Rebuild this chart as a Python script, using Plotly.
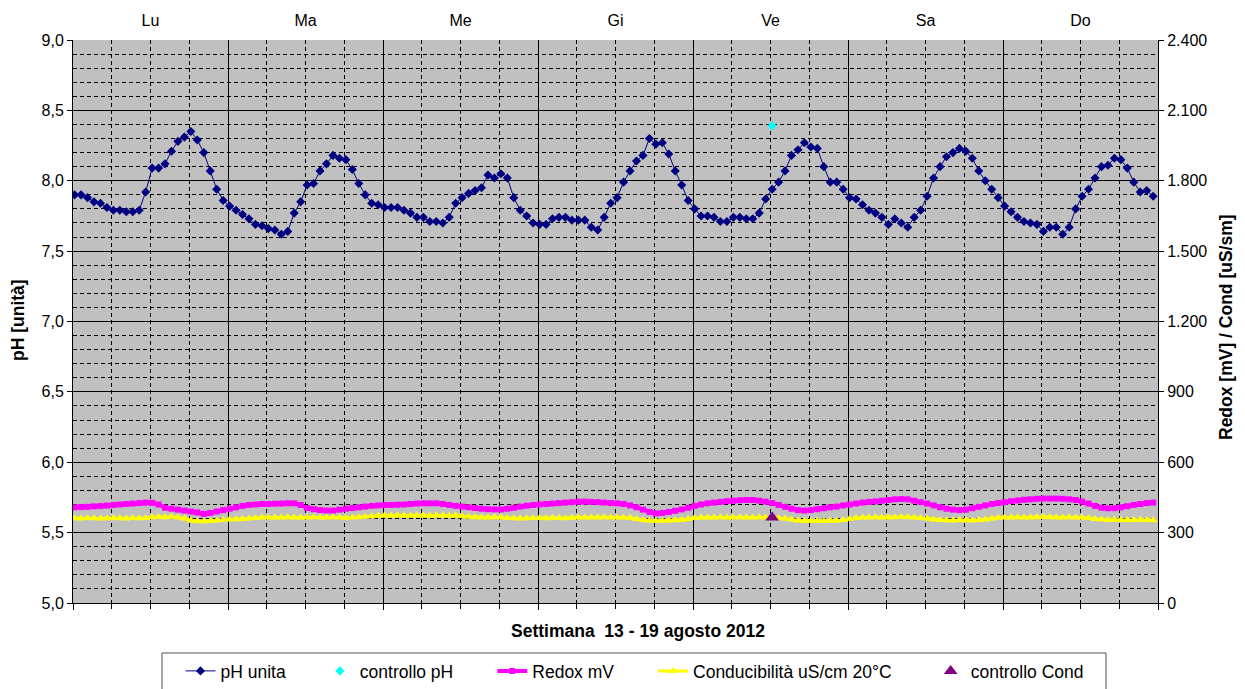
import plotly.graph_objects as go

# ---------------- data ----------------
days = ["Lu", "Ma", "Me", "Gi", "Ve", "Sa", "Do"]
hours = list(range(168))

ph_unita = [
    7.90, 7.90, 7.88, 7.85, 7.84, 7.81, 7.79, 7.79, 7.78, 7.78, 7.79, 7.92,
    8.09, 8.09, 8.12, 8.21, 8.28, 8.31, 8.35, 8.29, 8.20, 8.07, 7.94, 7.86,
    7.82, 7.79, 7.76, 7.73, 7.69, 7.68, 7.66, 7.65, 7.62, 7.64, 7.77, 7.85,
    7.97, 7.98, 8.07, 8.12, 8.18, 8.16, 8.15, 8.08, 7.98, 7.90, 7.84, 7.83,
    7.81, 7.81, 7.81, 7.79, 7.77, 7.74, 7.74, 7.71, 7.71, 7.70, 7.74, 7.84,
    7.88, 7.91, 7.93, 7.95, 8.04, 8.02, 8.05, 8.02, 7.88, 7.79, 7.75, 7.70,
    7.69, 7.69, 7.73, 7.74, 7.74, 7.72, 7.72, 7.72, 7.67, 7.65, 7.74, 7.84,
    7.88, 7.99, 8.07, 8.14, 8.18, 8.30, 8.26, 8.27, 8.19, 8.07, 7.97, 7.86,
    7.80, 7.75, 7.75, 7.74, 7.71, 7.71, 7.74, 7.74, 7.73, 7.73, 7.77, 7.87,
    7.94, 7.99, 8.07, 8.18, 8.22, 8.27, 8.24, 8.23, 8.10, 7.99, 7.99, 7.94,
    7.88, 7.87, 7.83, 7.79, 7.77, 7.74, 7.69, 7.73, 7.70, 7.67, 7.74, 7.79,
    7.89, 8.02, 8.10, 8.17, 8.20, 8.23, 8.21, 8.16, 8.07, 8.00, 7.94, 7.88,
    7.82, 7.78, 7.74, 7.71, 7.70, 7.69, 7.64, 7.67, 7.67, 7.62, 7.67, 7.80,
    7.89, 7.94, 8.02, 8.10, 8.11, 8.16, 8.15, 8.09, 7.99, 7.92, 7.93, 7.89,
]

redox_mv = [
    408, 409, 410, 412, 413, 415, 418, 420, 422, 424, 426, 428,
    427, 420, 406, 402, 398, 394, 390, 386, 380, 384, 390, 396,
    402, 408, 414, 418, 420, 422, 422, 423, 424, 425, 425, 418,
    405, 400, 396, 394, 394, 398, 402, 405, 408, 411, 414, 416,
    418, 418, 419, 420, 422, 424, 425, 425, 425, 422, 418, 414,
    411, 408, 405, 402, 400, 399, 399, 402, 406, 411, 415, 418,
    420, 422, 424, 426, 428, 430, 432, 432, 431, 430, 428, 426,
    425, 422, 416, 408, 398, 388, 382, 384, 388, 393, 399, 406,
    414, 420, 425, 428, 431, 434, 436, 438, 439, 439, 436, 432,
    426, 418, 410, 402, 396, 394, 396, 400, 404, 408, 411, 416,
    420, 424, 428, 431, 433, 436, 439, 442, 443, 442, 436, 430,
    424, 416, 408, 402, 398, 396, 398, 404, 410, 416, 422, 426,
    430, 434, 437, 440, 442, 444, 445, 445, 445, 444, 442, 439,
    432, 424, 414, 406, 404, 404, 408, 413, 418, 422, 426, 428,
]

conducibilita = [
    361, 360, 362, 361, 360, 361, 362, 361, 360, 362, 361, 362,
    366, 367, 366, 368, 365, 360, 352, 349, 348, 350, 352, 355,
    356, 357, 358, 360, 362, 364, 365, 364, 365, 366, 364, 365,
    364, 366, 365, 364, 366, 365, 362, 364, 366, 368, 370, 372,
    373, 372, 374, 373, 372, 374, 373, 372, 374, 373, 372, 373,
    370, 368, 366, 364, 365, 366, 364, 362, 361, 360, 361, 362,
    362, 361, 363, 362, 361, 363, 364, 365, 364, 365, 366, 365,
    364, 365, 363, 358, 354, 351, 350, 351, 352, 353, 354, 358,
    362, 364, 365, 364, 366, 365, 364, 366, 365, 364, 366, 365,
    364, 362, 360, 356, 352, 351, 350, 351, 350, 352, 351, 354,
    358, 362, 364, 365, 366, 364, 365, 366, 367, 366, 364, 362,
    360, 356, 354, 353, 352, 354, 353, 352, 354, 356, 360, 363,
    364, 365, 366, 364, 365, 366, 367, 366, 364, 365, 366, 365,
    364, 362, 358, 356, 354, 355, 354, 353, 354, 355, 354, 353,
]

controllo_ph_hour = [108]
controllo_ph = [8.39]
controllo_cond_hour = [108]
controllo_cond = [365]

day_centers = [11.75 + 24 * k for k in range(7)]

FONT = "Liberation Sans, Arial, sans-serif"
NB = "\u00a0"

# plot-area geometry (pixels)
W, H = 1245, 689
L, R, T, B = 73, 1158, 40, 603
PW, PH = R - L, B - T


def px(xp):
    return (xp - L) / PW


def py(yp):
    return (B - yp) / PH


fig = go.Figure()

fig.add_trace(go.Scatter(
    x=hours, y=ph_unita, name="pH unita" + NB * 6, mode="lines+markers",
    line=dict(color="#000080", width=1),
    marker=dict(symbol="diamond", size=7, color="#000080"),
    xaxis="x", yaxis="y"))

fig.add_trace(go.Scatter(
    x=controllo_ph_hour, y=controllo_ph, name="controllo pH" + NB * 7, mode="markers",
    marker=dict(symbol="diamond", size=7, color="#00FFFF"),
    xaxis="x", yaxis="y"))

fig.add_trace(go.Scatter(
    x=hours, y=redox_mv, name="Redox mV" + NB * 7, mode="lines+markers",
    line=dict(color="#FF00FF", width=4),
    marker=dict(symbol="square", size=6, color="#FF00FF"),
    xaxis="x", yaxis="y2"))

fig.add_trace(go.Scatter(
    x=hours, y=conducibilita, name="Conducibilità uS/cm 20°C" + NB * 7, mode="lines+markers",
    line=dict(color="#FFFF00", width=3),
    marker=dict(symbol="triangle-up", size=8, color="#FFFF00"),
    xaxis="x", yaxis="y2"))

fig.add_trace(go.Scatter(
    x=controllo_cond_hour, y=controllo_cond, name="controllo Cond", mode="markers",
    marker=dict(symbol="triangle-up", size=12, color="#800080"),
    xaxis="x", yaxis="y2"))

xr = [-0.25, 167.75]

fig.update_layout(
    width=W, height=H,
    margin=dict(l=L, r=W - R, t=T, b=H - B, autoexpand=False),
    paper_bgcolor="white",
    plot_bgcolor="#C0C0C0",
    separators=",.",
    font=dict(family=FONT, size=16, color="#000000"),
    showlegend=True,
    legend=dict(
        orientation="h", x=px(180.5), xanchor="left", y=py(653), yanchor="top",
        bgcolor="rgba(0,0,0,0)", borderwidth=0,
        font=dict(family=FONT, size=17.5, color="#000000"),
        traceorder="normal",
    ),
    xaxis=dict(
        range=xr, tick0=-0.25, dtick=24, showticklabels=False,
        ticks="outside", ticklen=6, tickcolor="black",
        showgrid=True, gridcolor="black", gridwidth=1,
        minor=dict(tick0=-0.25, dtick=6, ticks="outside", ticklen=5, tickcolor="black",
                   showgrid=True, gridcolor="black", griddash="4px,3px", gridwidth=1),
        showline=True, linecolor="black", linewidth=1,
        zeroline=False, automargin=False,
    ),
    xaxis2=dict(
        range=xr, overlaying="x", side="top", anchor="y",
        tickmode="array", tickvals=day_centers, ticktext=days,
        ticks="", showgrid=False, zeroline=False,
        showline=False, automargin=False,
        ticklabelstandoff=10,
        tickfont=dict(family=FONT, size=16, color="#000000"),
    ),
    yaxis=dict(
        range=[5, 9], dtick=0.5, tick0=5, tickformat=".1f",
        ticks="outside", ticklen=5, tickcolor="black",
        showgrid=True, gridcolor="black", gridwidth=1,
        minor=dict(dtick=0.1, tick0=5, showgrid=True, gridcolor="black",
                   griddash="4px,3px", gridwidth=1),
        showline=True, linecolor="black", linewidth=1,
        zeroline=False, automargin=False,
        tickfont=dict(family=FONT, size=16, color="#000000"),
    ),
    yaxis2=dict(
        range=[0, 2400], dtick=300, tick0=0, tickformat=",d",
        overlaying="y", side="right", anchor="x",
        ticks="outside", ticklen=5, tickcolor="black",
        showgrid=False, zeroline=False,
        showline=True, linecolor="black", linewidth=1, automargin=False,
        tickfont=dict(family=FONT, size=16, color="#000000"),
    ),
)

# legend frame
fig.add_shape(type="rect", xref="paper", yref="paper",
              x0=px(162), x1=px(1106), y0=py(653), y1=py(705),
              line=dict(color="#555555", width=1), fillcolor="white", layer="below")

# dummy trace so xaxis2 is drawn
fig.add_trace(go.Scatter(x=[xr[0]], y=[5], xaxis="x2", yaxis="y", mode="markers",
                         marker=dict(opacity=0), showlegend=False, hoverinfo="skip"))

fig.add_annotation(
    text="<b>pH [unità]</b>", textangle=-90, xref="paper", yref="paper",
    x=px(18), y=py(320), xanchor="center", yanchor="middle",
    showarrow=False, font=dict(family=FONT, size=17.5, color="#000000"))

fig.add_annotation(
    text="<b>Redox [mV] / Cond [uS/sm]</b>", textangle=-90, xref="paper", yref="paper",
    x=px(1226), y=py(327), xanchor="center", yanchor="middle",
    showarrow=False, font=dict(family=FONT, size=17.5, color="#000000"))

fig.add_annotation(
    text="<b>Settimana" + NB + " 13 - 19 agosto 2012</b>", xref="paper", yref="paper",
    x=px(638), y=py(631), xanchor="center", yanchor="middle",
    showarrow=False, font=dict(family=FONT, size=17.5, color="#000000"))

# remove the browser's default 8px page margin so the figure sits at (0, 0)
fig.write_html(
    "out.html",
    config={"displayModeBar": False},
    post_script="document.body.style.margin='0';document.body.style.overflow='hidden';",
)
